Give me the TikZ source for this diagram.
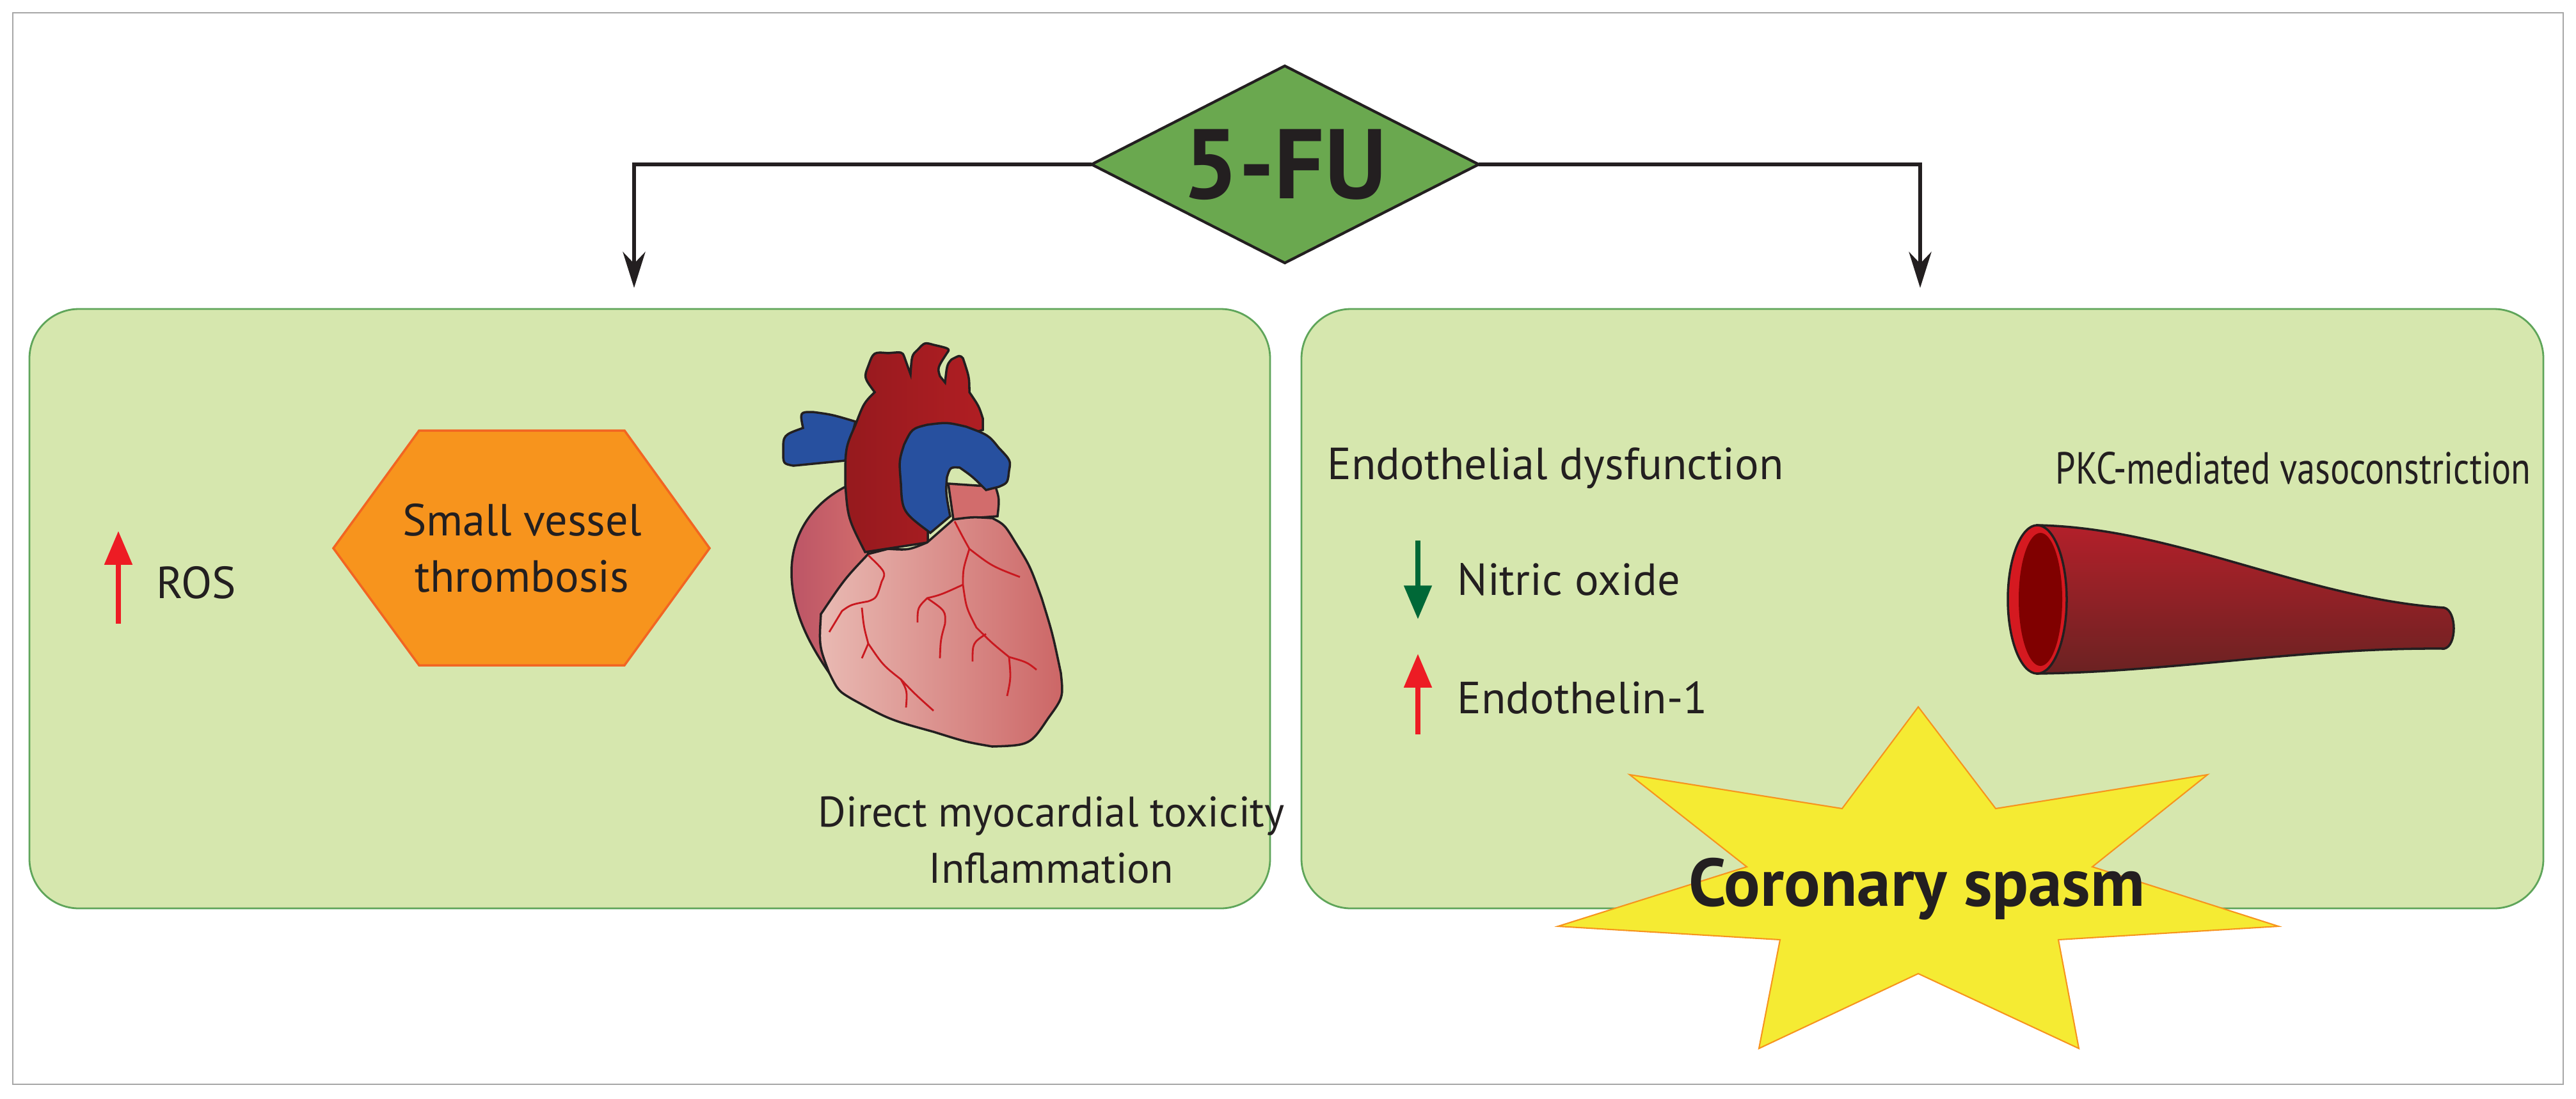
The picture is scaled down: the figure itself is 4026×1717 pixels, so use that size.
\documentclass[tikz,border=0pt]{standalone}
\usepackage{fontspec}
\setmainfont{PT Sans}
\usetikzlibrary{arrows.meta}
\definecolor{boxg}{HTML}{D6E7AE}
\definecolor{boxb}{HTML}{5FA55A}
\definecolor{dia}{HTML}{6AA84F}
\definecolor{hexo}{HTML}{F7941D}
\definecolor{hexb}{HTML}{F26522}
\definecolor{upr}{HTML}{ED1C24}
\definecolor{dng}{HTML}{006837}
\definecolor{stary}{HTML}{F5EB33}
\definecolor{aor}{HTML}{B01E23}
\definecolor{blu}{HTML}{27509F}
\definecolor{txt}{HTML}{231F20}
\definecolor{vl}{HTML}{E9BAB3}
\definecolor{vr}{HTML}{CC6666}
\definecolor{al}{HTML}{BC5566}
\definecolor{ar}{HTML}{D26C6C}
\definecolor{tubet}{HTML}{B3202A}
\definecolor{tubeb}{HTML}{6B2222}
\begin{document}
\begin{tikzpicture}[x=0.01cm,y=-0.01cm,
  lbl/.style={font=\fontsize{20}{25}\selectfont, text=txt, inner sep=0},
  box/.style={fill=boxg, draw=boxb, line width=0.8pt, rounded corners=22pt},
  conn/.style={draw=txt, line width=1.6pt, -{Stealth[length=16pt,width=10pt]}},
  vein/.style={draw=upr!85!black, line width=0.8pt},
  ind/.style={line width=2.2pt, -{Triangle[length=15pt,width=12pt]}}]
\useasboundingbox (0,0) rectangle (4026,1717);
\draw[gray!70, line width=0.8pt] (20,20) rectangle (4006,1695);
\path[box] (46,483) rectangle (1985,1420);
\path[box] (2034,483) rectangle (3975,1420);
% diamond
\path[fill=dia, draw=txt, line width=1.2pt] (1706,257) -- (2008,103) -- (2311,257) -- (2008,411) -- cycle;
\node[font=\bfseries\fontsize{44}{50}\selectfont, text=txt] (fu) at (2008,257) {5-FU};
\coordinate (fl) at (1706,257); \coordinate (fr) at (2311,257);
\coordinate (lt) at (991,450); \coordinate (rt) at (3001,450);
\draw[conn] (fl) -| (lt);
\draw[conn] (fr) -| (rt);
% ROS
\coordinate (r1) at (185,975); \coordinate (r2) at (185,830);
\draw[upr, ind] (r1) -- (r2);
\node[lbl, anchor=west] (ros) at (244,911) {ROS};
% hexagon
\path[fill=hexo, draw=hexb, line width=1pt] (521,857) -- (655,673) -- (976,673) -- (1109,857) -- (976,1040) -- (655,1040) -- cycle;
\node[lbl, align=center] (svt) at (816,857) {Small vessel\\thrombosis};
% heart
\path[draw=txt, line width=1pt, left color=al, right color=ar] (1321,761) .. controls (1265,790) and (1237,840) .. (1237,894) .. controls (1237,950) and (1260,1000) .. (1296,1052) -- (1283,960) -- (1357,866) -- cycle;
\path[draw=txt, line width=1pt, fill=ar] (1482,756) -- (1556,761) .. controls (1562,780) .. (1559,807) -- (1490,812) -- cycle;
\path[draw=txt, line width=1pt, fill=blu] (1337,659) .. controls (1300,648) .. (1270,644) .. controls (1250,644) .. (1255,669) .. controls (1224,680) .. (1224,705) .. controls (1224,725) .. (1240,728) -- (1321,720) -- cycle;
\path[draw=txt, line width=1pt, left color=aor!85!black, right color=aor] (1352,863) .. controls (1325,810) .. (1321,756) .. controls (1321,700) .. (1337,664) .. controls (1350,630) .. (1367,613) .. controls (1350,590) .. (1357,572) .. controls (1365,550) .. (1388,552) .. controls (1410,550) .. (1413,557) -- (1423,585) .. controls (1425,555) .. (1434,547) .. controls (1445,535) .. (1459,539) .. controls (1485,545) .. (1480,552) .. controls (1465,575) .. (1469,588) -- (1477,598) .. controls (1480,570) .. (1487,562) .. controls (1500,555) .. (1505,560) .. controls (1515,590) .. (1515,613) .. controls (1530,635) .. (1536,654) -- (1536,672) -- (1450,700) -- (1450,848) -- cycle;
\path[draw=txt, line width=1pt, fill=blu] (1454,833) .. controls (1410,800) .. (1408,756) .. controls (1405,720) .. (1413,695) .. controls (1425,670) .. (1449,664) .. controls (1480,660) .. (1510,667) .. controls (1545,680) .. (1561,700) .. controls (1580,720) .. (1577,736) .. controls (1575,755) .. (1561,761) -- (1541,766) .. controls (1520,745) .. (1500,731) .. controls (1485,730) .. (1480,746) .. controls (1478,770) .. (1485,807) -- cycle;
\path[draw=txt, line width=1pt, left color=vl, right color=vr] (1357,866) .. controls (1320,905) .. (1283,960) .. controls (1280,1010) .. (1296,1052) .. controls (1310,1080) .. (1332,1093) .. controls (1390,1125) .. (1459,1144) .. controls (1510,1160) .. (1551,1167) .. controls (1610,1165) .. (1638,1123) .. controls (1662,1090) .. (1658,1052) .. controls (1645,990) .. (1628,935) .. controls (1610,885) .. (1587,848) .. controls (1570,820) .. (1551,810) .. controls (1520,808) .. (1490,812) .. controls (1470,830) .. (1449,848) .. controls (1420,860) .. (1388,858) -- cycle;
\draw[vein] (1357,868) .. controls (1385,895) .. (1378,909) .. controls (1370,935) .. (1357,940) .. controls (1330,945) .. (1316,955) -- (1296,988);
\draw[vein] (1347,950) .. controls (1350,980) .. (1357,1006) .. controls (1380,1040) .. (1408,1062) .. controls (1430,1085) .. (1459,1111);
\draw[vein] (1357,1006) -- (1347,1029);
\draw[vein] (1408,1062) .. controls (1418,1080) .. (1416,1106);
\draw[vein] (1492,815) .. controls (1505,840) .. (1515,858) .. controls (1550,885) .. (1594,902);
\draw[vein] (1515,858) .. controls (1505,890) .. (1505,914) .. controls (1510,950) .. (1526,981) .. controls (1550,1005) .. (1577,1027) .. controls (1605,1035) .. (1620,1047);
\draw[vein] (1505,914) .. controls (1470,930) .. (1449,935) .. controls (1434,950) .. (1434,973);
\draw[vein] (1449,935) .. controls (1478,955) .. (1477,975) .. controls (1470,1000) .. (1469,1029);
\draw[vein] (1541,991) .. controls (1520,1005) .. (1520,1034);
\draw[vein] (1577,1027) .. controls (1580,1060) .. (1574,1088);
\node[lbl, font=\fontsize{19}{25}\selectfont, align=center] (dmt) at (1643,1313) {Direct myocardial toxicity\\Inflammation};
% right box
\node[lbl] (ed) at (2431,732) {Endothelial dysfunction};
\node[lbl] (pkc) at (3584,732) {\scalebox{0.8}[1]{PKC-mediated vasoconstriction}};
\coordinate (g1) at (2216,845); \coordinate (g2) at (2216,968);
\draw[dng, ind] (g1) -- (g2);
\node[lbl, anchor=west] (no) at (2277,906) {Nitric oxide};
\coordinate (e1) at (2216,1148); \coordinate (e2) at (2216,1022);
\draw[upr, ind] (e1) -- (e2);
\node[lbl, anchor=west] (et) at (2277,1091) {Endothelin-1};
% vessel
\path[draw=txt, line width=1pt, top color=tubet, bottom color=tubeb] (3184,821) .. controls (3400,825) and (3600,935) .. (3820,950) .. controls (3840,955) and (3840,1010) .. (3820,1014) .. controls (3600,1012) and (3400,1050) .. (3184,1053) -- cycle;
\path[draw=txt, line width=1pt, fill=upr!90!black] (3184,937) ellipse [x radius=46, y radius=116];
\path[fill=red!50!black] (3189,937) ellipse [x radius=34, y radius=104];
% star
\path[fill=stary, draw=hexo, line width=0.6pt] (2998,1105) -- (3119,1264) -- (3450,1211) -- (3270,1355) -- (3561,1448) -- (3217,1469) -- (3249,1639) -- (2998,1522) -- (2749,1639) -- (2782,1469) -- (2435,1448) -- (2730,1355) -- (2547,1211) -- (2879,1264) -- cycle;
\node[font=\bfseries\fontsize{30}{34}\selectfont, text=txt] (cs) at (2996,1390) {Coronary spasm};
\end{tikzpicture}
\end{document}
